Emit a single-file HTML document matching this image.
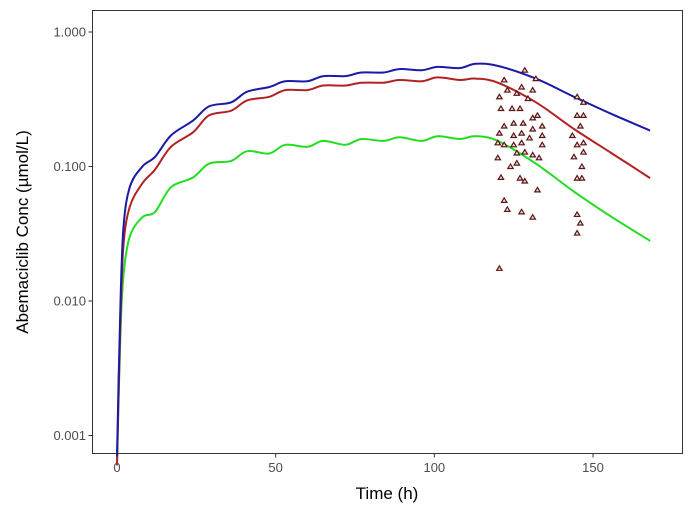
<!DOCTYPE html>
<html><head><meta charset="utf-8"><style>
body{margin:0;background:#fff;font-family:"Liberation Sans",sans-serif}
svg{display:block}
</style></head><body>
<svg id="chart" width="690" height="518" xmlns="http://www.w3.org/2000/svg">
<rect x="0" y="0" width="690" height="518" fill="#fff"/>
<g id="plot"></g>
</svg>
<script>
const times=[0,1,2,4,8,12,17,24,29,36,41,48,53,60,65,72,77,84,89,96,101,108,113,120,132,144,156,168];
const blueVals=[0.0007,0.008,0.034,0.07,0.10,0.118,0.17,0.22,0.28,0.30,0.36,0.39,0.43,0.43,0.47,0.47,0.50,0.50,0.53,0.52,0.55,0.54,0.58,0.56,0.45,0.33,0.245,0.185];
const redVals=[0.0006,0.006,0.025,0.05,0.075,0.095,0.14,0.18,0.24,0.26,0.31,0.33,0.37,0.37,0.40,0.40,0.42,0.42,0.44,0.43,0.46,0.44,0.45,0.42,0.30,0.19,0.125,0.082];
const greenVals=[0.0006,0.005,0.015,0.03,0.042,0.046,0.07,0.083,0.105,0.11,0.13,0.125,0.145,0.14,0.155,0.145,0.16,0.155,0.165,0.155,0.168,0.16,0.168,0.155,0.105,0.065,0.042,0.028];
const obsTimes=[128.5,122,132,123,127.5,131,120.5,126,129.5,121,124.5,127,131,132.5,122,125,128,131,134,120.5,125,127.5,130,134,120,122,125,127.5,134,126,128.5,131,133,120,124,126,121,127,128.5,132.5,122,123,127.5,131,120.5,145,147,145,147,146,143.5,145,147,144,147,146.5,145,146.5,145,146,145];
const obsVals=[0.52,0.44,0.45,0.37,0.39,0.37,0.33,0.35,0.32,0.27,0.27,0.27,0.23,0.24,0.20,0.21,0.21,0.19,0.20,0.177,0.17,0.177,0.163,0.17,0.15,0.145,0.145,0.15,0.145,0.126,0.128,0.122,0.116,0.116,0.10,0.106,0.083,0.082,0.078,0.067,0.056,0.048,0.046,0.042,0.0175,0.33,0.30,0.24,0.24,0.20,0.17,0.145,0.15,0.118,0.128,0.10,0.082,0.082,0.044,0.038,0.032];
const xTicks=[0,50,100,150];
const yTicks=[0.001,0.01,0.1,1];
const yTickLabels=["0.001","0.010","0.100","1.000"];

const NS="http://www.w3.org/2000/svg";
const g=document.getElementById('plot');
const X=t=>117+t*(593-117)/150;
const Y=v=>32-Math.log10(v)*134.5;
function mk(tag,attrs){const e=document.createElementNS(NS,tag);for(const k in attrs)e.setAttribute(k,attrs[k]);g.appendChild(e);return e;}

const frame=mk('rect',{x:92.5,y:10.5,width:590,height:443,fill:'none',stroke:'#333','stroke-width':1});



xTicks.forEach(t=>{
  const tk=mk('line',{x1:X(t),x2:X(t),y1:453.5,y2:457.5,stroke:'#333'});
  
  
  const tx=mk('text',{x:X(t),y:472,'text-anchor':'middle','font-size':13,fill:'#4d4d4d'});
  tx.textContent=t;
  
  
});
yTicks.forEach((v,i)=>{
  const tk=mk('line',{x1:88.5,x2:92.5,y1:Y(v),y2:Y(v),stroke:'#333'});
  
  
  const tx=mk('text',{x:86,y:Y(v)+4.5,'text-anchor':'end','font-size':13,fill:'#4d4d4d'});
  tx.textContent=yTickLabels[i];
  
  
});

function line(vals,color,name){
  const P=times.map((t,i)=>[X(t),Y(vals[i])]);
  let d='M'+P[0][0].toFixed(1)+','+P[0][1].toFixed(1);
  for(let i=0;i<P.length-1;i++){
    const p0=P[Math.max(0,i-1)],p1=P[i],p2=P[i+1],p3=P[Math.min(P.length-1,i+2)];
    const c1=[p1[0]+(p2[0]-p0[0])/6,p1[1]+(p2[1]-p0[1])/6];
    const c2=[p2[0]-(p3[0]-p1[0])/6,p2[1]-(p3[1]-p1[1])/6];
    d+=` C${c1[0].toFixed(1)},${c1[1].toFixed(1)} ${c2[0].toFixed(1)},${c2[1].toFixed(1)} ${p2[0].toFixed(1)},${p2[1].toFixed(1)}`;
  }
  const p=mk('path',{d:d,fill:'none',stroke:color,'stroke-width':2,'stroke-linejoin':'round'});
  
  
}
line(greenVals,'#22dd22','series-green-line');
line(redVals,'#b22222','series-red-line');
line(blueVals,'#1a1aa6','series-blue-line');

obsTimes.forEach((t,i)=>{
  const x=X(t),y=Y(obsVals[i]);
  const p=mk('polygon',{points:`${x},${y-2.5} ${x-2.7},${y+2} ${x+2.7},${y+2}`,fill:'#f3dede',stroke:'#5a1515','stroke-width':1.2});
  
  
});

const xl=mk('text',{x:387,y:499,'text-anchor':'middle','font-size':17,fill:'#000'});
xl.textContent='Time (h)';


const yl=mk('text',{x:0,y:0,'text-anchor':'middle','font-size':17,fill:'#000',transform:'translate(28,232) rotate(-90)'});
yl.textContent='Abemaciclib Conc (µmol/L)';


</script>
</body></html>
